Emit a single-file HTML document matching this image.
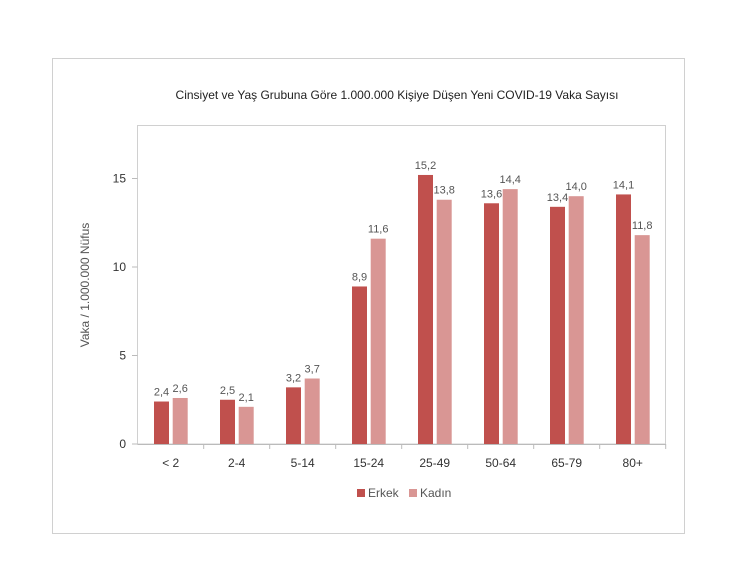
<!DOCTYPE html>
<html><head><meta charset="utf-8"><style>
body{margin:0;background:#fff;width:750px;height:559px;overflow:hidden;font-family:"Liberation Sans",sans-serif}
</style></head><body>
<svg id="chart" width="750" height="559">
<rect x="52.5" y="58.5" width="632" height="475" fill="#fff" stroke="#d0d0d0"/>
<text x="397" y="99" text-anchor="middle" font-size="12" fill="#222">Cinsiyet ve Yaş Grubuna Göre 1.000.000 Kişiye Düşen Yeni COVID-19 Vaka Sayısı</text>
<rect x="137.5" y="125.5" width="528" height="318.5" fill="none" stroke="#d0d0d0"/>
<text transform="translate(89,285) rotate(-90)" text-anchor="middle" font-size="12" fill="#555">Vaka / 1.000.000 Nüfus</text>
<g id="g"></g>
<rect x="357" y="489" width="8" height="8" fill="#c0504d"/>
<text x="368" y="497" font-size="12" fill="#555">Erkek</text>
<rect x="409" y="489" width="8" height="8" fill="#d99694"/>
<text x="420" y="497" font-size="12" fill="#555">Kadın</text>
</svg>
<script>
const categories=["< 2","2-4","5-14","15-24","25-49","50-64","65-79","80+"];
const erkek=[2.4,2.5,3.2,8.9,15.2,13.6,13.4,14.1];
const kadin=[2.6,2.1,3.7,11.6,13.8,14.4,14.0,11.8];
const yTicks=[0,5,10,15];
const NS="http://www.w3.org/2000/svg";
const g=document.getElementById('g');
const x0=137.7,gw=66,y0=444,ppu=17.7,bw=15;
const y=v=>y0-v*ppu;
function mk(t,a){const e=document.createElementNS(NS,t);for(const k in a)e.setAttribute(k,a[k]);g.appendChild(e);return e;}
const fmt=v=>v.toFixed(1).replace('.',',');
yTicks.forEach(t=>{
 const l=mk('line',{x1:132,x2:137.5,y1:y(t),y2:y(t),stroke:'#bbb'});
 
 
 const tx=mk('text',{x:126,y:y(t)+4,'text-anchor':'end','font-size':12,fill:'#333'});tx.textContent=t;
 
 
});
const ax=mk('line',{x1:137.5,x2:665.5,y1:444.5,y2:444.5,stroke:'#bbb'});


categories.forEach((c,i)=>{
 const gx=x0+i*gw;
 const tk=mk('line',{x1:gx+gw,x2:gx+gw,y1:444,y2:449,stroke:'#bbb'});
 
 
 const lb=mk('text',{x:gx+gw/2,y:467,'text-anchor':'middle','font-size':12,fill:'#333'});lb.textContent=c;
 
 
 [[erkek[i],'#c0504d',16.3,'erkek'],[kadin[i],'#d99694',35,'kadin']].forEach(([v,col,off,n])=>{
  const r=mk('rect',{x:gx+off,y:y(v),width:bw,height:v*ppu,fill:col});
  
  
  const t=mk('text',{x:gx+off+bw/2,y:y(v)-6,'text-anchor':'middle','font-size':11,fill:'#555'});t.textContent=fmt(v);
  
  
 });
});
</script>
</body></html>
